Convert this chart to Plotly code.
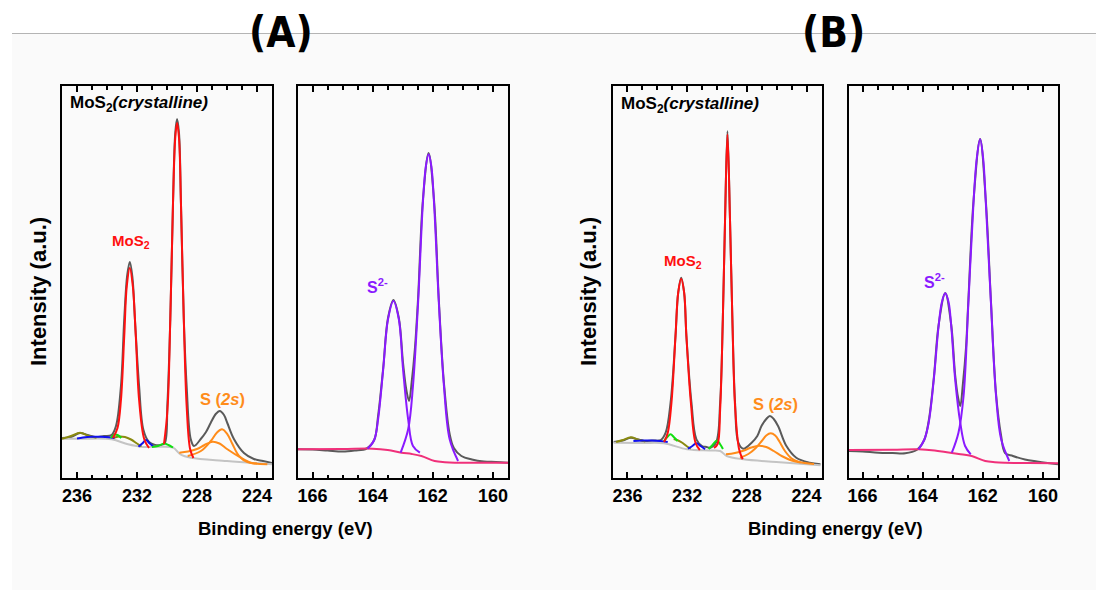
import plotly.graph_objects as go

# ---------------- Panel A : Mo 3d ----------------
A_mo_env_x = [237.0, 236.4, 235.8, 235.3, 234.8, 234.2, 233.7, 233.4, 233.07, 232.85, 232.65, 232.48, 232.3, 232.14,
              231.86, 231.57, 231.2, 230.8, 230.4, 230.15, 229.97, 229.78, 229.6, 229.45, 229.33, 229.2, 229.07,
              228.88, 228.69, 228.42, 228.2, 227.75, 227.4, 227.09, 226.75, 226.48, 226.2, 225.98, 225.54, 224.87,
              224.21, 223.6, 223.0]
A_mo_env_y = [40, 41, 45, 43, 41, 42, 43, 52, 92, 159, 203, 216, 200, 159, 92, 48, 36, 33, 33, 35, 75, 159, 275,
              345, 359, 345, 275, 159, 92, 39, 32, 39, 46, 55, 64, 67, 63, 55, 39, 25, 19, 17, 15]
A_mo_bg_x = [237.0, 235.5, 233.7, 232.6, 231.75, 230.4, 229.6, 229.1, 228.4, 226.0, 223.0]
A_mo_bg_y = [39.3, 39.3, 38.7, 33.7, 31.3, 31.3, 30.3, 23.7, 20.3, 17, 13.7]
A_red1_x = [233.6, 233.3, 233.07, 232.85, 232.68, 232.48, 232.28, 232.08, 231.86, 231.52, 231.2]
A_red1_y = [40, 50, 78, 142, 192, 210, 192, 142, 78, 39, 30]
A_red2_x = [230.2, 229.97, 229.78, 229.6, 229.45, 229.33, 229.2, 229.07, 228.88, 228.69, 228.46, 228.24]
A_red2_y = [34, 68, 159, 275, 340, 355, 340, 275, 159, 72, 29, 20]
A_blue1_x = [236.0, 235.6, 235.0, 234.4, 233.9, 233.5]
A_blue1_y = [39.5, 40.5, 41.2, 41.2, 40.8, 40]
A_blue2_x = [231.9, 231.65, 231.4, 231.15, 230.9]
A_blue2_y = [31.3, 34.5, 38, 34.5, 31.3]
A_olive1_x = [237.0, 236.4, 235.8, 235.2, 234.7]
A_olive1_y = [39.3, 42, 45.3, 42, 40.3]
A_olive2_x = [233.6, 233.2, 232.8, 232.4, 232.0, 231.7]
A_olive2_y = [40, 41.5, 41, 38.5, 34.5, 31.5]
A_green1_x = [233.75, 233.5, 233.3, 233.05]
A_green1_y = [40, 43.5, 43, 40]
A_green2_x = [231.0, 230.6, 230.2, 229.9, 229.6]
A_green2_y = [31, 32, 34.5, 33, 30.5]
A_or1_x = [229.18, 228.6, 228.0, 227.5, 226.96, 226.5, 226.0, 225.08, 224.42, 224.0]
A_or1_y = [25.3, 26.5, 29, 33, 36.3, 34.5, 29, 20.3, 15.3, 14.5]
A_or2_x = [228.62, 227.74, 227.08, 226.68, 226.33, 225.97, 225.63, 225.2, 224.64, 223.31]
A_or2_y = [22, 27, 37, 45.3, 48.7, 43.7, 33.7, 22, 16, 13.7]

# ---------------- Panel A : S 2p ----------------
A_s_env_x = [166.5, 166.0, 165.5, 165.0, 164.6, 164.2, 163.95, 163.82, 163.65, 163.49, 163.31, 163.13, 162.99,
             162.88, 162.79, 162.7, 162.6, 162.49, 162.33, 162.14, 161.96, 161.8, 161.63, 161.44, 161.3, 161.05,
             160.7, 160.3, 159.9, 159.5]
A_s_env_y = [28.7, 28.5, 27.5, 26.5, 27.5, 29.5, 38, 62, 110, 160, 178, 160, 115, 88, 77, 97, 128, 180, 278, 325,
             278, 178, 95, 44, 30, 22, 18.5, 16.5, 16, 15.3]
A_s1_x = [164.17, 163.95, 163.82, 163.65, 163.49, 163.31, 163.13, 162.99, 162.82, 162.66, 162.43]
A_s1_y = [29.3, 38, 58.7, 108.7, 158.7, 177, 158.7, 108.7, 58.7, 32, 25.3]
A_s2_x = [163.07, 162.82, 162.66, 162.49, 162.33, 162.23, 162.14, 162.05, 161.96, 161.8, 161.63, 161.44, 161.16]
A_s2_y = [25.3, 48.7, 92, 175.3, 275.3, 312, 323.7, 312, 275.3, 175.3, 92, 38.7, 17]
A_s_bg_x = [166.5, 165.0, 164.0, 163.5, 163.04, 162.7, 162.38, 161.94, 161.6, 161.27, 160.5, 159.5]
A_s_bg_y = [28.7, 29, 29.3, 28, 25.3, 24, 22, 17, 15.8, 15.3, 15.3, 15.3]

# ---------------- Panel B : Mo 3d ----------------
B_mo_env_x = [236.92, 236.3, 235.77, 235.3, 234.88, 234.3, 233.77, 233.44, 233.11, 232.78, 232.6, 232.4, 232.2,
              232.05, 231.71, 231.38, 231.0, 230.7, 230.45, 230.05, 229.79, 229.61, 229.46, 229.3, 229.13, 228.97,
              228.79, 228.57, 228.24, 227.68, 227.3, 227.02, 226.7, 226.46, 226.2, 225.91, 225.35, 224.69, 223.8,
              223.07]
B_mo_env_y = [36, 37.5, 40.3, 38.5, 37, 37.5, 38, 45.3, 75.3, 142, 185, 200.3, 185, 142, 75.3, 38.7, 32, 31, 30.3,
              36, 75.3, 158.7, 258.7, 347, 258.7, 158.7, 75.3, 35.3, 29.3, 35.3, 42, 52, 59, 62, 59, 52, 32, 20.3,
              15.3, 13.7]
B_mo_bg_x = [236.92, 235.0, 233.55, 232.0, 230.5, 229.79, 229.35, 228.24, 226.03, 223.07]
B_mo_bg_y = [35.3, 35, 34.7, 28.7, 27.5, 27, 22, 18.7, 16, 12.7]
B_red1_x = [233.55, 233.3, 233.05, 232.78, 232.6, 232.4, 232.2, 232.05, 231.75, 231.44, 231.15]
B_red1_y = [36, 45, 75.3, 142, 185.3, 199.3, 185.3, 142, 75.3, 35.3, 28]
B_red2_x = [230.2, 229.96, 229.79, 229.61, 229.46, 229.3, 229.13, 228.97, 228.79, 228.52, 228.28]
B_red2_y = [30, 34, 68, 158.7, 258.7, 343.7, 258.7, 158.7, 72, 28.7, 18.7]
B_blue1_x = [235.6, 235.0, 234.4, 233.8, 233.3]
B_blue1_y = [37, 37.5, 37.5, 37, 36]
B_blue2_x = [231.95, 231.65, 231.38, 231.1, 230.8]
B_blue2_y = [29.3, 32, 34.7, 32, 28.7]
B_olive1_x = [236.76, 236.3, 235.77, 235.3, 234.8]
B_olive1_y = [36, 38, 40.7, 38.5, 36.5]
B_olive2_x = [232.9, 232.6, 232.3, 232.0, 231.75]
B_olive2_y = [39, 37.5, 35, 31.5, 29.5]
B_green1_x = [233.55, 233.3, 233.11, 232.9, 232.65]
B_green1_y = [37, 41.5, 43.7, 41, 37]
B_green2_x = [230.56, 230.3, 230.0, 229.8, 229.6]
B_green2_y = [29, 33, 37.5, 34, 29]
B_or1_x = [229.4, 228.8, 228.2, 227.7, 227.2, 226.7, 226.2, 225.6, 225.0, 224.4]
B_or1_y = [23.7, 25, 27.5, 30.5, 32.3, 31, 27, 21.5, 17.5, 15.5]
B_or2_x = [228.46, 227.9, 227.4, 227.0, 226.7, 226.4, 226.1, 225.8, 225.45, 225.0, 224.5, 223.5]
B_or2_y = [20.3, 24, 30, 37, 42.5, 44.7, 42.5, 36, 27, 19.5, 16, 14]

# ---------------- Panel B : S 2p ----------------
B_s_env_x = [166.45, 166.0, 165.47, 165.0, 164.58, 164.2, 163.95, 163.8, 163.63, 163.47, 163.25, 163.05, 162.92,
             162.82, 162.75, 162.66, 162.56, 162.48, 162.31, 162.09, 161.9, 161.73, 161.56, 161.39, 161.26, 161.0,
             160.6, 160.2, 159.85, 159.5]
B_s_env_y = [27, 26.5, 25.3, 25, 24.7, 28, 38, 57, 100, 153, 185, 153, 103, 80, 72, 95, 130, 178, 277, 339, 277,
             177, 84, 42, 25, 22, 18.5, 16.5, 15, 13.7]
B_s1_x = [164.14, 163.95, 163.8, 163.63, 163.47, 163.36, 163.25, 163.14, 163.05, 162.92, 162.75, 162.59, 162.4]
B_s1_y = [28.7, 38, 55.3, 98.7, 152, 176, 184.7, 176, 152, 98.7, 55.3, 32, 23.7]
B_s2_x = [163.03, 162.81, 162.64, 162.48, 162.31, 162.2, 162.09, 161.99, 161.9, 161.73, 161.56, 161.39, 161.12]
B_s2_y = [25.3, 45.3, 82, 175.3, 275.3, 320, 338.7, 320, 275.3, 175.3, 82, 38.7, 17]
B_s_bg_x = [166.45, 165.0, 164.14, 163.6, 163.25, 162.8, 162.37, 161.92, 161.6, 161.26, 160.5, 159.5]
B_s_bg_y = [28, 28.3, 28.7, 27.5, 26, 24, 22, 17, 15.8, 15.3, 15, 14.7]

# axis ranges (binding energy, reversed) and tick labels
mo_range = [237.0, 223.0]
s_range_A = [166.5, 159.5]
s_range_B = [166.45, 159.5]
mo_ticks = [236, 232, 228, 224]
s_ticks = [166, 164, 162, 160]
y_range = [0, 392]

# ------------------------------------------------------------
C_ENV = "#5a5a5a"
C_BG = "#c4c4c4"
C_RED = "#ff1010"
C_BLUE = "#1010ee"
C_OLIVE = "#8a8a10"
C_GREEN = "#10e010"
C_OR = "#ff8c1a"
C_PUR = "#8a1aff"
C_PINK = "#f0307a"
FONT = "Liberation Sans, Arial, sans-serif"

fig = go.Figure()


def add(x, y, color, ax, width=2.0):
    fig.add_trace(go.Scatter(x=x, y=y, mode="lines", line=dict(color=color, width=width, shape="spline"),
                             xaxis="x" + ax, yaxis="y" + ax, showlegend=False, hoverinfo="skip"))


for pre, ax in (("A", ""), ("B", "3")):
    g = globals()
    add(g[pre + "_mo_env_x"], g[pre + "_mo_env_y"], C_ENV, ax)
    add(g[pre + "_mo_bg_x"], g[pre + "_mo_bg_y"], C_BG, ax)
    add(g[pre + "_olive1_x"], g[pre + "_olive1_y"], C_OLIVE, ax)
    add(g[pre + "_olive2_x"], g[pre + "_olive2_y"], C_OLIVE, ax)
    add(g[pre + "_blue1_x"], g[pre + "_blue1_y"], C_BLUE, ax)
    add(g[pre + "_blue2_x"], g[pre + "_blue2_y"], C_BLUE, ax)
    add(g[pre + "_green1_x"], g[pre + "_green1_y"], C_GREEN, ax)
    add(g[pre + "_green2_x"], g[pre + "_green2_y"], C_GREEN, ax)
    add(g[pre + "_or1_x"], g[pre + "_or1_y"], C_OR, ax)
    add(g[pre + "_or2_x"], g[pre + "_or2_y"], C_OR, ax)
    add(g[pre + "_red1_x"], g[pre + "_red1_y"], C_RED, ax)
    add(g[pre + "_red2_x"], g[pre + "_red2_y"], C_RED, ax)

for pre, ax in (("A", "2"), ("B", "4")):
    g = globals()
    add(g[pre + "_s_env_x"], g[pre + "_s_env_y"], C_ENV, ax)
    add(g[pre + "_s_bg_x"], g[pre + "_s_bg_y"], C_PINK, ax)
    add(g[pre + "_s1_x"], g[pre + "_s1_y"], C_PUR, ax)
    add(g[pre + "_s2_x"], g[pre + "_s2_y"], C_PUR, ax)

W, H = 1096, 601
y_dom = [(H - 478) / H, (H - 86) / H]
x_doms = {"": [62 / W, 272 / W], "2": [297.5 / W, 508 / W], "3": [612.5 / W, 821.5 / W], "4": [849 / W, 1058 / W]}
x_rng = {"": mo_range, "2": s_range_A, "3": mo_range, "4": s_range_B}


def xaxis(k):
    is_mo = k in ("", "3")
    return dict(domain=x_doms[k], range=x_rng[k], anchor="y" + k, showline=True, linecolor="black", linewidth=2,
                mirror="allticks", ticks="inside", ticklen=6, tickwidth=1.5, tickcolor="black",
                tickvals=mo_ticks if is_mo else s_ticks, showgrid=False, zeroline=False,
                tickfont=dict(family=FONT, size=18, color="black", weight="bold"),
                minor=dict(dtick=1 if is_mo else 0.5, tick0=0, ticks="inside", ticklen=3.5, tickwidth=1.5,
                           tickcolor="black", showgrid=False))


def yaxis(k):
    return dict(domain=y_dom, range=y_range, anchor="x" + k, showline=True, linecolor="black", linewidth=2,
                mirror=True, ticks="", showticklabels=False, showgrid=False, zeroline=False)


layout = dict(width=W, height=H, margin=dict(l=0, r=0, t=0, b=0), paper_bgcolor="white", plot_bgcolor="white",
              showlegend=False)
for k in ("", "2", "3", "4"):
    layout["xaxis" + k] = xaxis(k)
    layout["yaxis" + k] = yaxis(k)
fig.update_layout(**layout)

ann = []


def txt(text, x, y, size, color="black", xref="paper", yref="paper", xanchor="center", angle=0, family=FONT):
    ann.append(dict(text=text, x=x, y=y, xref=xref, yref=yref, xanchor=xanchor, yanchor="middle", showarrow=False,
                    textangle=angle, font=dict(family=family, size=size, color=color, weight="bold")))


TITLE_FONT = "Liberation Sans Narrow, DejaVu Sans Condensed, Liberation Sans, sans-serif"
txt("(A)", 281 / W, 1 - 33 / H, 42, family=TITLE_FONT)
txt("(B)", 833 / W, 1 - 33 / H, 42, family=TITLE_FONT)
for cx in (38, 588):
    txt("Intensity (a.u.)", cx / W, 1 - 292 / H, 22, angle=-90)
for cx in (285, 835):
    txt("Binding energy (eV)", cx / W, 1 - 528 / H, 18.5)

# in-panel labels (data coordinates)
txt("MoS<sub>2</sub><i>(crystalline)</i>", 236.6, 374, 17, xref="x", yref="y", xanchor="left")
txt("MoS<sub>2</sub><i>(crystalline)</i>", 236.54, 373, 17, xref="x3", yref="y3", xanchor="left")
txt("MoS<sub>2</sub>", 232.43, 237, 15, color=C_RED, xref="x", yref="y")
txt("MoS<sub>2</sub>", 232.25, 217, 15, color=C_RED, xref="x3", yref="y3")
txt("S (<i>2s</i>)", 226.28, 79, 16.5, color=C_OR, xref="x", yref="y")
txt("S (<i>2s</i>)", 226.07, 74, 16.5, color=C_OR, xref="x3", yref="y3")
txt("S<sup>2-</sup>", 163.83, 192, 16, color=C_PUR, xref="x2", yref="y2")
txt("S<sup>2-</sup>", 163.62, 197, 16, color=C_PUR, xref="x4", yref="y4")
fig.update_layout(annotations=ann)

fig.update_layout(shapes=[
    dict(type="rect", xref="paper", yref="paper", x0=12 / W, x1=1, y0=1 - 590 / H, y1=1 - 34 / H,
         fillcolor="#fafafa", line=dict(width=0), layer="below"),
    dict(type="line", xref="paper", yref="paper", x0=12 / W, x1=1, y0=1 - 33.5 / H, y1=1 - 33.5 / H,
         line=dict(color="#b4b4b4", width=1)),
])

fig.write_html("out.html", config={"displayModeBar": False},
               post_script="document.body.style.margin='0';document.body.style.overflow='hidden';")
